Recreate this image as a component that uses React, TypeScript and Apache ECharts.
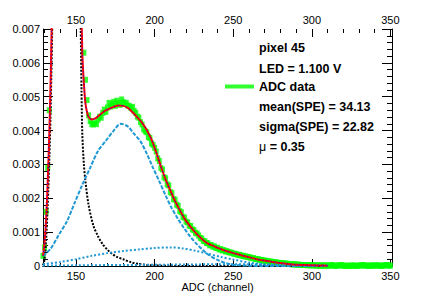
import React, { useEffect, useRef } from "react";
import * as echarts from "echarts";

// ADC data: one value per channel, starting at channel 129 (last = 350)
const dataFirstChannel = 129;
const adcDataValues = [
  0.0003, 0.00055, 0.0016, 0.0029, 0.0046, 0.0071, 0.0102, 0.0138, 0.0176, 0.0205,
  0.0231, 0.0252, 0.0266, 0.0272, 0.0275, 0.027, 0.0258, 0.024, 0.0216, 0.019,
  0.0163, 0.0139, 0.0116, 0.0097, 0.0081, 0.0071, 0.0063, 0.0055, 0.0049, 0.00445,
  0.00428, 0.00419, 0.00418, 0.00422, 0.00419, 0.00432, 0.00441, 0.00438, 0.00452, 0.00462,
  0.00455, 0.00468, 0.00482, 0.00471, 0.00478, 0.00485, 0.00473, 0.00488, 0.00481, 0.00476,
  0.00492, 0.00484, 0.00479, 0.00482, 0.00474, 0.00472, 0.00466, 0.0047, 0.00458, 0.00452,
  0.00441, 0.00438, 0.00425, 0.00418, 0.00404, 0.00398, 0.00395, 0.00381, 0.00378, 0.00362,
  0.00358, 0.00349, 0.00338, 0.00318, 0.0031, 0.00289, 0.00285, 0.00262, 0.00259, 0.00241,
  0.00238, 0.00218, 0.00215, 0.00197, 0.00196, 0.00181, 0.00178, 0.00162, 0.00159, 0.00145,
  0.00143, 0.00131, 0.00129, 0.00119, 0.00118, 0.00108, 0.00106, 0.00098, 0.00096, 0.0009,
  0.00083, 0.00081, 0.00074, 0.00073, 0.00068, 0.00067, 0.00061, 0.00062, 0.00057, 0.00058,
  0.00053, 0.00054, 0.00049, 0.0005, 0.00046, 0.00047, 0.00043, 0.00044, 0.00041, 0.0004,
  0.00039, 0.00037, 0.00036, 0.00035, 0.00033, 0.00033, 0.00031, 0.0003, 0.00029, 0.00028,
  0.00027, 0.00026, 0.00025, 0.00023, 0.00023, 0.00021, 0.0002, 0.0002, 0.00018, 0.00018,
  0.00016, 0.00016, 0.00015, 0.00014, 0.00013, 0.00013, 0.00012, 0.00011, 0.00011, 0.0001,
  0.00009, 0.00009, 0.00008, 0.00008, 0.00007, 0.00007, 0.00006, 0.00006, 0.00005, 0.00005,
  0.00005, 0.00004, 0.00004, 0.00004, 0.00003, 0.00003, 0.00003, 0.00003, 0.00002, 0.00003,
  0.00002, 0.00002, 0.00002, 0.00002, 0.00001, 0.00002, 0.00001, 0.00002, 0.00001, 0.00001,
  0.00002, 0.00001, 0.00001, 0.00002, 0.00003, 0.00001, 0, 0.00001, 0.00002, 0.00002,
  0.00003, 0.00001, 0, 0.00001, 0.00001, 0, 0.00001, 0.00002, 0.00001, 0,
  0.00001, 0.00001, 0.00002, 0.00002, 0.00003, 0.00001, 0.00001, 0, 0.00001, 0.00002,
  0.00001, 0.00001, 0.00002, 0.00002, 0.00001, 0, 0.00001, 0.00002, 0.00002, 0.00003,
  0.00001, 0.00001,
];

// Total fit
const totalAdc = [129, 130, 131, 132, 133, 134, 135, 137, 140, 143, 146, 149, 151, 152, 153, 154, 155, 156, 157, 158, 160, 162, 165, 168, 171, 174, 177, 180, 183, 186, 189, 192, 195, 198, 201, 204, 207, 210, 213, 216, 219, 222, 225, 228, 231, 234, 237, 241, 245, 250, 255, 260, 265, 270, 275, 280, 285, 290, 295, 300, 305, 310];
const totalVal = [0.0003, 0.0007, 0.0014, 0.0025, 0.0039, 0.0058, 0.0085, 0.016, 0.024, 0.028, 0.026, 0.019, 0.0135, 0.011, 0.0086, 0.0063, 0.0054, 0.0048, 0.00455, 0.0044, 0.00433, 0.00435, 0.00446, 0.00457, 0.00464, 0.0047, 0.00474, 0.00473, 0.00467, 0.00454, 0.00439, 0.00423, 0.00402, 0.00374, 0.00336, 0.00294, 0.00256, 0.00223, 0.00192, 0.00165, 0.0014, 0.00121, 0.00104, 0.00089, 0.00076, 0.00066, 0.0006, 0.00052, 0.00045, 0.00038, 0.00032, 0.00026, 0.0002, 0.00016, 0.00012, 0.00009, 0.00006, 0.00004, 0.00003, 0.00002, 0.000015, 0.00001];

// Pedestal component
const pedAdc = [129, 130, 131, 132, 133, 134, 135, 136, 137.5, 140, 143, 146, 149, 151, 152, 153, 153.5, 154, 155, 156, 158, 161, 164, 167, 170, 173, 176, 180, 185, 190, 195, 200, 210, 220, 310];
const pedVal = [0.00002, 0.0002, 0.0008, 0.0018, 0.0031, 0.0049, 0.0074, 0.0105, 0.015, 0.022, 0.026, 0.024, 0.017, 0.012, 0.0095, 0.007, 0.0052, 0.0039, 0.003, 0.0025, 0.0018, 0.0012, 0.00088, 0.00064, 0.00048, 0.00036, 0.00027, 0.0002, 0.00011, 0.00006, 0.00003, 0.000015, 0.000005, 0, 0];

// Single photo-electron component
const speAdc = [129, 134, 139, 144, 149, 154, 159, 164, 169, 174, 178.5, 183, 187, 191, 195, 199, 203, 207, 211, 215, 219, 223, 227, 231, 235, 240, 245, 250, 255, 260, 270, 310];
const speVal = [0.0003, 0.00052, 0.00092, 0.0013, 0.00185, 0.0024, 0.0029, 0.0034, 0.0037, 0.004, 0.0042, 0.00412, 0.0039, 0.00368, 0.00332, 0.0029, 0.0025, 0.00208, 0.0017, 0.00138, 0.0011, 0.00085, 0.00064, 0.00046, 0.00031, 0.00018, 0.00009, 0.00004, 0.00002, 0.00001, 0, 0];

// Two photo-electron component
const pe2Adc = [129, 140, 150, 160, 170, 180, 190, 200, 210, 218, 226, 234, 242, 250, 260, 270, 280, 290, 300, 310];
const pe2Val = [0.00005, 0.00012, 0.0002, 0.0003, 0.00038, 0.00044, 0.00049, 0.00053, 0.00055, 0.00052, 0.00045, 0.00036, 0.00027, 0.00019, 0.0001, 0.00005, 0.00002, 0.00001, 0, 0];

// Three photo-electron component
const pe3Adc = [129, 150, 180, 210, 240, 260, 280, 300, 310];
const pe3Val = [0.00001, 0.00002, 0.00003, 0.00004, 0.00005, 0.00005, 0.00004, 0.00003, 0.00002];

// Axis ranges / ticks
const xRange = [129, 351];
const xMajorRange = [150, 350];
const xMinorRange = [130, 350];
const yRange = [0, 0.007];

const infoLines = ["pixel 45", "LED = 1.100 V"];
const statLines = ["mean(SPE) = 34.13", "sigma(SPE) = 22.82"];
const muText = "0.35";

const FONT = '"Liberation Sans", Arial, Helvetica, sans-serif';
const CYAN = "#1f98d4";

const pairs = (xs: number[], ys: number[]) => xs.map((x, i) => [x, ys[i]]);

export default function App() {
  const ref = useRef<HTMLDivElement>(null);
  useEffect(() => {
    document.body.style.margin = "0";
    const chart = echarts.init(ref.current!, null, { renderer: "svg" });
    const adcData = adcDataValues.map((v, i) => [dataFirstChannel + i, v]);

    const gLeft = 43, gTop = 29, gW = 349, gH = 238;
    const pxPer = gW / (xRange[1] - xRange[0]);
    const gridFor = (r: number[]) => ({
      left: gLeft + (r[0] - xRange[0]) * pxPer,
      top: gTop,
      width: (r[1] - r[0]) * pxPer,
      height: gH,
      containLabel: false,
    });

    const tickX = (gridIndex: number, r: number[], pos: string, interval: number, len: number, labels: boolean) => ({
      type: "value",
      gridIndex,
      position: pos,
      min: r[0],
      max: r[1],
      interval,
      splitLine: { show: false },
      axisLine: { show: false },
      axisTick: { show: true, inside: true, length: len, lineStyle: { color: "#000", width: 1 } },
      axisLabel: labels
        ? { show: true, color: "#000", fontFamily: FONT, fontSize: 11, lineHeight: 11, margin: pos === "top" ? 4 : 3 }
        : { show: false },
    });
    const hiddenY = (gridIndex: number) => ({
      type: "value",
      gridIndex,
      min: yRange[0],
      max: yRange[1],
      show: false,
    });

    const option: any = {
      animation: false,
      grid: [gridFor(xRange), gridFor(xMajorRange), gridFor(xMinorRange)],
      xAxis: [
        {
          type: "value",
          gridIndex: 0,
          position: "bottom",
          min: xRange[0],
          max: xRange[1],
          splitLine: { show: false },
          axisLine: { show: true, lineStyle: { color: "#000", width: 1 } },
          axisTick: { show: false },
          axisLabel: { show: false },
          name: "ADC (channel)",
          nameLocation: "middle",
          nameGap: 15,
          nameTextStyle: { color: "#000", fontFamily: FONT, fontSize: 11, lineHeight: 11 },
        },
        {
          type: "value",
          gridIndex: 0,
          position: "top",
          min: xRange[0],
          max: xRange[1],
          splitLine: { show: false },
          axisLine: { show: true, lineStyle: { color: "#000", width: 1 } },
          axisTick: { show: false },
          axisLabel: { show: false },
        },
        tickX(1, xMajorRange, "bottom", 50, 8, true),
        tickX(1, xMajorRange, "top", 50, 8, true),
        tickX(2, xMinorRange, "bottom", 10, 4, false),
        tickX(2, xMinorRange, "top", 10, 4, false),
      ],
      yAxis: [
        {
          type: "value",
          gridIndex: 0,
          position: "left",
          min: yRange[0],
          max: yRange[1],
          interval: 0.001,
          splitLine: { show: false },
          axisLine: { show: true, lineStyle: { color: "#000", width: 1 } },
          axisTick: { show: true, inside: true, length: 10, lineStyle: { color: "#000" } },
          minorTick: { show: true, splitNumber: 5, length: 5, lineStyle: { color: "#000" } },
          axisLabel: { color: "#000", fontFamily: FONT, fontSize: 11, margin: 3 },
        },
        {
          type: "value",
          gridIndex: 0,
          position: "right",
          min: yRange[0],
          max: yRange[1],
          interval: 0.001,
          splitLine: { show: false },
          axisLine: { show: true, lineStyle: { color: "#000", width: 1 } },
          axisTick: { show: true, inside: true, length: 10, lineStyle: { color: "#000" } },
          minorTick: { show: true, splitNumber: 5, length: 5, lineStyle: { color: "#000" } },
          axisLabel: { show: false },
        },
        hiddenY(1),
        hiddenY(2),
      ],
      legend: {
        data: [{ name: "ADC data", icon: "rect" }],
        left: 225,
        top: 80,
        padding: 0,
        itemWidth: 29,
        itemHeight: 4,
        itemGap: 0,
        selectedMode: false,
        textStyle: { color: "#000", fontFamily: FONT, fontSize: 12.5, fontWeight: "bold" },
      },
      series: [
        {
          name: "ADC data",
          type: "scatter",
          data: adcData,
          symbol: "rect",
          symbolSize: [5, 6],
          itemStyle: { color: "#00ff00" },
          clip: true,
          z: 2,
        },
        {
          name: "pedestal",
          type: "line",
          data: pairs(pedAdc, pedVal),
          showSymbol: false,
          smooth: 0.3,
          clip: true,
          lineStyle: { color: "#000", width: 2, type: [2, 1.5] },
          z: 3,
        },
        {
          name: "SPE",
          type: "line",
          data: pairs(speAdc, speVal),
          showSymbol: false,
          smooth: 0.3,
          clip: true,
          lineStyle: { color: CYAN, width: 2, type: [4, 1.5] },
          z: 3,
        },
        {
          name: "2PE",
          type: "line",
          data: pairs(pe2Adc, pe2Val),
          showSymbol: false,
          smooth: 0.3,
          clip: true,
          lineStyle: { color: CYAN, width: 2, type: [2, 2] },
          z: 3,
        },
        {
          name: "3PE",
          type: "line",
          data: pairs(pe3Adc, pe3Val),
          showSymbol: false,
          smooth: 0.3,
          clip: true,
          lineStyle: { color: CYAN, width: 2, type: [2, 2] },
          z: 3,
        },
        {
          name: "fit",
          type: "line",
          data: pairs(totalAdc, totalVal),
          showSymbol: false,
          smooth: 0.3,
          clip: true,
          lineStyle: { color: "#ff0000", width: 2 },
          z: 4,
        },
        {
          name: "fit sum",
          type: "line",
          data: pairs(totalAdc, totalVal),
          showSymbol: false,
          smooth: 0.3,
          clip: true,
          lineStyle: { color: "#0000ff", width: 1, type: [1, 3] },
          z: 5,
        },
      ],
      graphic: [
        ...infoLines.map((t, i) => ({
          type: "text",
          x: 259,
          y: 48 + i * 21,
          style: { text: t, fill: "#000", font: `bold 12.5px ${FONT}`, verticalAlign: "middle", align: "left" },
        })),
        ...statLines.map((t, i) => ({
          type: "text",
          x: 259,
          y: 107 + i * 20,
          style: { text: t, fill: "#000", font: `bold 12.5px ${FONT}`, verticalAlign: "middle", align: "left" },
        })),
        {
          type: "text",
          x: 259,
          y: 147,
          style: {
            text: `{mu|μ} = ${muText}`,
            fill: "#000",
            font: `bold 12.5px ${FONT}`,
            verticalAlign: "middle",
            align: "left",
            rich: { mu: { fontFamily: FONT, fontSize: 12.5, fontWeight: "normal", fill: "#000" } },
          },
        },
      ],
    };
    chart.setOption(option);
    return () => chart.dispose();
  }, []);
  return <div ref={ref} style={{ width: 436, height: 297 }} />;
}
